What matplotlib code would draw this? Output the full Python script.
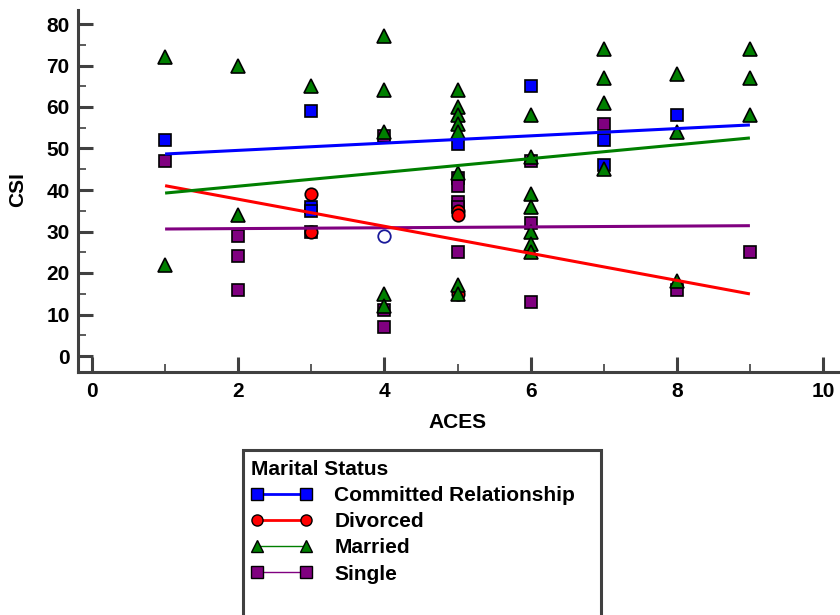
import matplotlib

matplotlib.use("Agg")
import matplotlib.pyplot as plt
import numpy as np
from matplotlib.lines import Line2D
from matplotlib.patches import Rectangle
from matplotlib.ticker import MultipleLocator

plt.rcParams["font.family"] = ["Liberation Sans", "DejaVu Sans"]
plt.rcParams["font.weight"] = "bold"

# ACES / CSI scores by marital status
committed_x = [1, 3, 3, 3, 5, 6, 7, 7, 8]
committed_y = [52, 59, 36, 35, 51, 65, 52, 46, 58]

divorced_x = [3, 3, 5, 5, 5]
divorced_y = [39, 30, 35, 34, 15]

married_x = [1, 1, 2, 2, 3, 4, 4, 4, 4, 4,
             5, 5, 5, 5, 5, 5, 5, 5,
             6, 6, 6, 6, 6, 6, 6,
             7, 7, 7, 7, 8, 8, 8, 9, 9, 9]
married_y = [72, 22, 70, 34, 65, 77, 64, 54, 15, 12,
             64, 60, 58, 56, 54, 44, 17, 15,
             58, 48, 39, 36, 30, 27, 25,
             74, 67, 61, 45, 68, 54, 18, 74, 67, 58]

single_x = [1, 2, 2, 2, 3, 4, 4, 4, 5, 5, 5, 5, 5, 6, 6, 6, 7, 8, 9]
single_y = [47, 29, 24, 16, 30, 53, 11, 7, 43, 41, 37, 36, 25, 47, 32, 13, 56, 16, 25]

# highlighted point
marked_x = [4]
marked_y = [29]

# fitted lines: intercept, slope
fit_committed = (47.8, 0.875)
fit_divorced = (44.3, -3.26)
fit_married = (37.6, 1.66)
fit_single = (30.5, 0.10)
fit_range = (1, 9)

groups = [
    ("Single", single_x, single_y, fit_single, "#800080", "s", 1.0),
    ("Committed Relationship", committed_x, committed_y, fit_committed, "#0000FF", "s", 2.0),
    ("Divorced", divorced_x, divorced_y, fit_divorced, "#FF0000", "o", 2.0),
    ("Married", married_x, married_y, fit_married, "#007F00", "^", 1.0),
]
legend_order = ["Committed Relationship", "Divorced", "Married", "Single"]

FS = 15

fig = plt.figure(figsize=(8.4, 6.15), dpi=100)
ax = fig.add_axes([78 / 840, 1 - 372 / 615, (840 - 78) / 840, (372 - 9.5) / 615])

xs = np.array(fit_range, dtype=float)
handles = {}
for name, gx, gy, (b0, b1), color, marker, lw in groups:
    ms = 10 if marker == "^" else 9
    ax.plot(gx, gy, linestyle="none", marker=marker, markersize=ms,
            markerfacecolor=color, markeredgecolor="black", markeredgewidth=1.2,
            zorder=3)
    ax.plot(xs, b0 + b1 * xs, color=color, linewidth=2.2, zorder=4,
            solid_capstyle="butt")
    handles[name] = Line2D([], [], color=color, linewidth=lw, marker=marker,
                           markersize=8, markerfacecolor=color,
                           markeredgecolor="black", markeredgewidth=1.0)

ax.plot(marked_x, marked_y, linestyle="none", marker="o", markersize=9,
        markerfacecolor="white", markeredgecolor="#1a1a9a",
        markeredgewidth=1.3, zorder=5)

ax.set_xlim(-14 / 73.1, 10 + 17 / 73.1)
ax.set_ylim(-16 / 4.15, 80 + 14.5 / 4.15)
ax.xaxis.set_major_locator(MultipleLocator(2))
ax.xaxis.set_minor_locator(MultipleLocator(1))
ax.yaxis.set_major_locator(MultipleLocator(10))
ax.yaxis.set_minor_locator(MultipleLocator(5))

spine_color = "#404040"
for side in ("top", "right"):
    ax.spines[side].set_visible(False)
for side in ("left", "bottom"):
    ax.spines[side].set_color(spine_color)
    ax.spines[side].set_linewidth(2.2)
ax.tick_params(which="major", direction="in", length=10.5, width=2.2,
               color=spine_color, labelsize=FS)
ax.tick_params(which="minor", direction="in", length=5.5, width=1.2,
               color=spine_color)
ax.tick_params(axis="y", which="major", pad=6)
ax.tick_params(axis="x", which="major", pad=7)
for lab in ax.get_xticklabels() + ax.get_yticklabels():
    lab.set_fontweight("bold")

fig.text(18 / 840, 1 - 190 / 615, "CSI", rotation=90, ha="center", va="center",
         fontsize=FS, fontweight="bold")
fig.text(458 / 840, 1 - 422 / 615, "ACES", ha="center", va="center",
         fontsize=FS, fontweight="bold")

# legend box runs past the bottom edge
fig.patches.append(Rectangle((243 / 840, -0.05), (601 - 243) / 840, 0.05 + (615 - 450) / 615,
                             transform=fig.transFigure, facecolor="white",
                             edgecolor=spine_color, linewidth=2.2, zorder=1))
leg = fig.legend([handles[n] for n in legend_order], legend_order,
                 title="Marital Status", loc="upper left",
                 bbox_to_anchor=(236 / 840, 1 - 445 / 615), frameon=False,
                 fontsize=FS, title_fontproperties={"weight": "bold", "size": FS},
                 numpoints=2, handlelength=2.95, handletextpad=1.06,
                 labelspacing=0.35, borderpad=0.2, alignment="left")
leg.set_zorder(2)

fig.savefig("out.png", dpi=100)
